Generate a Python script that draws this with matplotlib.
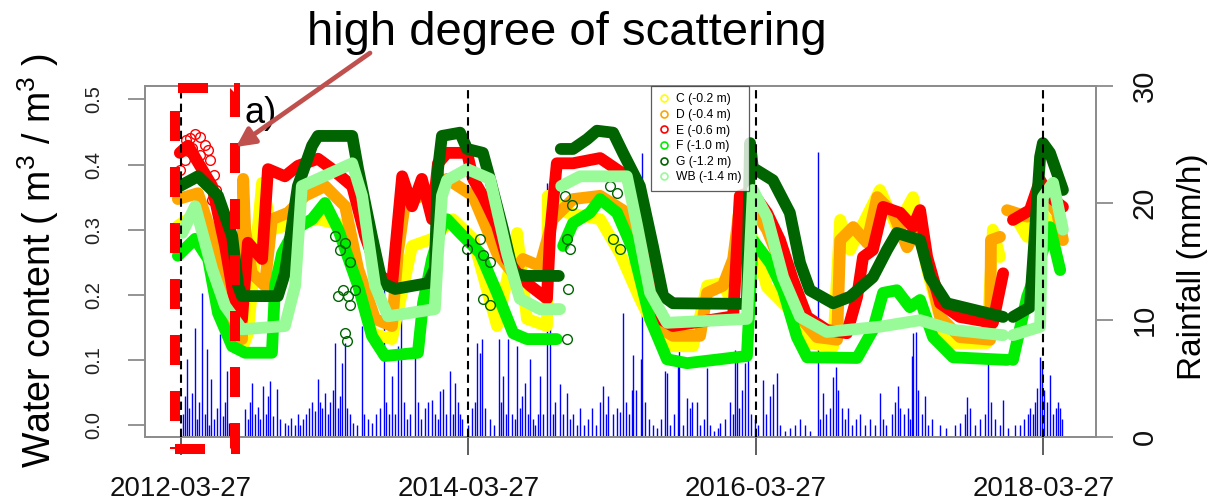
import numpy as np
import pandas as pd
import matplotlib
matplotlib.use("Agg")
import matplotlib.pyplot as plt
from matplotlib.lines import Line2D
from matplotlib.patches import Rectangle, FancyArrowPatch

# ---------------- data ----------------
START = "2012-03-27"
tick_labels = ["2012-03-27", "2014-03-27", "2016-03-27", "2018-03-27"]
series_names = ["C (-0.2 m)", "D (-0.4 m)", "E (-0.6 m)", "F (-1.0 m)", "G (-1.2 m)", "WB (-1.4 m)"]
series_colors = ["#FFFF00", "#FFA500", "#FF0000", "#00EE00", "#006400", "#98FB98"]
nan = float("nan")

# (days since 2012-03-27, water content m3/m3)
C_pts = [(-8, .306), (43, .326), (104, .187), (155, .117), (170, .14), (206, .372), (231, .30),
         (264, .306), (348, .316), (417, .306), (485, .141), (536, .132), (587, .275), (638, .286),
         (691, .316), (742, .286), (803, .152), (854, .295), (879, .163), (930, .152), (932, .352),
         (981, .326), (1065, .316), (1115, .264), (1166, .194), (1209, .141), (1250, .121),
         (1301, .121), (1337, .214), (1377, .218), (1403, .183), (1420, .352), (1433, .330),
         (1489, .212), (1547, .177), (1591, .126), (1657, .120), (1675, .315), (1700, .269),
         (1776, .361), (1819, .304), (1860, .350), (1896, .238), (1946, .126), (2048, .126),
         (2063, .300), (2081, .258), (2100, nan), (2114, .326), (2150, .289), (2175, .335),
         (2234, .289)]
D_pts = [(-8, .347), (43, .356), (94, .264), (130, .163), (155, .132), (158, .378), (163, .30),
         (180, .233), (213, .214), (231, .316), (272, .326), (315, .352), (366, .367), (417, .336),
         (450, .240), (493, .163), (536, .152), (551, .264), (569, .341), (612, .352), (653, .367),
         (676, .378), (742, .352), (803, .264), (844, .233), (869, .255), (912, .244), (945, .316),
         (996, .347), (1065, .352), (1133, .326), (1174, .233), (1209, .152), (1250, .137),
         (1319, .137), (1337, .203), (1377, .214), (1403, .255), (1420, .336), (1446, .341),
         (1489, .300), (1530, .238), (1573, .166), (1616, .135), (1667, .131), (1675, .284),
         (1708, .304), (1743, .280), (1769, .350), (1809, .326), (1845, .273), (1870, .300),
         (1896, .249), (1929, .166), (1979, .135), (2056, .131), (2058, .284), (2081, .289),
         (2090, nan), (2099, .330), (2150, .320), (2183, .361), (2226, .326), (2241, .284)]
E_pts = [(-3, .418), (18, .429), (79, .367), (112, .275), (137, .187), (155, .163), (170, .280),
         (206, .255), (221, .393), (264, .382), (297, .398), (348, .409), (384, .393), (435, .367),
         (468, .290), (501, .233), (536, .214), (562, .382), (587, .336), (612, .378), (638, .316),
         (653, .402), (676, .418), (727, .418), (742, .378), (767, .352), (803, .306), (828, .255),
         (854, .233), (887, .214), (930, .194), (938, .295), (955, .402), (996, .402), (1065, .410),
         (1133, .382), (1166, .316), (1192, .214), (1217, .163), (1250, .152), (1403, .167),
         (1420, .352), (1438, .356), (1453, .356), (1489, .326), (1522, .284), (1555, .223),
         (1591, .166), (1641, .146), (1692, .141), (1718, .197), (1733, .258), (1758, .269),
         (1784, .335), (1827, .326), (1860, .304), (1878, .330), (1896, .258), (1929, .187),
         (1979, .166), (2063, .157), (2089, .233), (2100, nan), (2114, .315), (2157, .330),
         (2183, .376), (2208, .350), (2241, .335)]
F_pts = [(-8, .260), (36, .286), (69, .255), (94, .172), (130, .121), (163, .111), (231, .111),
         (239, .214), (257, .264), (290, .301), (333, .316), (366, .341), (399, .301), (450, .214),
         (485, .137), (518, .106), (602, .111), (615, .187), (638, .255), (663, .306), (676, .316),
         (709, .295), (760, .264), (803, .203), (844, .141), (879, .132), (955, .132), (963, nan),
         (971, .275), (996, .310), (1039, .326), (1065, .347), (1108, .326), (1148, .270),
         (1192, .163), (1235, .101), (1286, .095), (1438, .106), (1453, .284), (1497, .249),
         (1530, .207), (1565, .135), (1591, .104), (1718, .103), (1758, .146), (1784, .203),
         (1819, .207), (1852, .181), (1878, .192), (1911, .135), (1962, .104), (2099, .100),
         (2105, nan), (2114, .100), (2150, .197), (2175, .238), (2208, .304), (2234, .238)]
G_pts = [(-3, .367), (43, .382), (94, .352), (130, .290), (145, .214), (155, .198), (246, .198),
         (264, .233), (297, .367), (333, .429), (348, .444), (435, .444), (450, .393), (485, .290),
         (511, .218), (544, .209), (628, .218), (645, .240), (653, .393), (663, .444), (709, .449),
         (727, .424), (767, .418), (785, .378), (818, .301), (844, .233), (879, .229), (960, .229),
         (962, nan), (965, .424), (996, .424), (1032, .439), (1057, .452), (1098, .449),
         (1123, .418), (1166, .367), (1199, .275), (1225, .198), (1250, .187), (1438, .186),
         (1446, .433), (1453, .395), (1504, .376), (1547, .326), (1573, .249), (1598, .207),
         (1657, .187), (1700, .197), (1758, .227), (1794, .269), (1819, .295), (1878, .284),
         (1903, .227), (1946, .187), (2089, .166), (2100, nan), (2114, .166), (2157, .181),
         (2183, .412), (2190, .433), (2208, .418), (2241, .361)]
WB_pts = [(3, .295), (36, .336), (79, .240), (112, .183), (155, .147), (264, .152), (290, .214),
          (307, .367), (348, .378), (435, .402), (460, .352), (493, .214), (526, .167), (645, .178),
          (653, .264), (663, .352), (676, .376), (727, .393), (785, .378), (828, .264), (861, .194),
          (912, .178), (963, .178), (964, nan), (966, .367), (1014, .382), (1133, .382),
          (1159, .306), (1192, .203), (1235, .157), (1438, .163), (1453, .361), (1489, .320),
          (1530, .227), (1573, .166), (1641, .143), (1776, .151), (1878, .161), (1962, .146),
          (2089, .138), (2100, nan), (2114, .138), (2183, .151), (2190, .350), (2216, .372),
          (2241, .300)]

# scattered single readings
E_scatter = [(3, .422), (13, .438), (23, .441), (36, .447), (48, .442), (61, .430), (74, .407),
             (84, .384), (89, .361), (-3, .392), (10, .407), (48, .415), (69, .422), (79, .346),
             (28, .425)]
G_scatter = [(391, .290), (404, .269), (417, .280), (429, .250), (442, .207), (412, .207),
             (399, .198), (424, .198), (429, .184), (417, .141), (422, .129), (727, .270),
             (760, .286), (767, .261), (785, .250), (767, .194), (785, .184), (981, .286),
             (988, .270), (983, .209), (981, .132), (1098, .286), (1115, .270), (976, .352),
             (993, .338), (1090, .367), (1108, .356)]

# (days since 2012-03-27, rainfall mm/h)
rain = [(5, 2.0), (10, 3.5), (15, 6.7), (20, 2.5), (28, 3.8), (36, 9.3), (41, 1.5), (46, 3.0),
        (53, 12.3), (61, 2.0), (66, 7.5), (71, 1.0), (76, 5.0), (84, 1.5), (91, 2.5), (99, 8.8),
        (107, 1.8), (112, 3.0), (117, 5.6), (122, 1.2), (163, 2.4), (170, 1.5), (175, 3.0),
        (180, 4.6), (188, 2.0), (196, 2.6), (201, 1.5), (208, 4.4), (216, 2.0), (221, 3.5),
        (226, 4.8), (234, 1.8), (244, 4.1), (252, 1.5), (264, 1.2), (272, 1.0), (280, 1.6),
        (290, 1.0), (297, 2.0), (302, 1.0), (310, 1.5), (318, 2.0), (325, 2.5), (333, 3.0),
        (340, 2.2), (348, 5.0), (353, 3.0), (358, 2.5), (366, 3.8), (374, 2.0), (379, 3.0),
        (386, 4.0), (391, 8.0), (399, 2.5), (404, 3.5), (409, 6.3), (417, 8.0), (422, 2.5),
        (429, 2.0), (437, 1.2), (447, 1.0), (460, 9.5), (465, 2.0), (475, 1.5), (485, 1.2),
        (495, 2.0), (506, 2.5), (516, 14.0), (521, 3.0), (529, 2.0), (536, 5.2), (544, 2.0),
        (551, 7.8), (559, 10.1), (567, 3.0), (574, 1.5), (582, 2.0), (595, 6.9), (602, 3.0),
        (610, 1.5), (620, 2.5), (628, 3.0), (638, 3.2), (645, 2.0), (653, 1.5), (658, 3.9),
        (666, 4.1), (673, 2.0), (684, 5.6), (691, 2.0), (696, 4.6), (704, 3.0), (709, 2.0),
        (714, 1.5), (729, 1.0), (739, 2.5), (747, 3.0), (752, 8.0), (760, 7.2), (765, 8.4),
        (772, 2.5), (785, 1.5), (795, 1.0), (808, 8.4), (813, 3.0), (818, 5.2), (826, 2.0),
        (831, 8.4), (841, 2.0), (849, 1.5), (854, 7.8), (861, 2.5), (866, 3.5), (874, 4.6),
        (882, 2.0), (887, 6.7), (894, 1.5), (900, 1.0), (907, 2.0), (912, 5.2), (920, 2.0),
        (930, 21.7), (938, 12.9), (945, 2.0), (950, 3.0), (963, 4.5), (971, 2.0), (981, 3.8),
        (988, 1.5), (996, 2.0), (1006, 1.0), (1014, 2.5), (1024, 1.0), (1034, 1.5), (1044, 2.5),
        (1055, 1.0), (1065, 3.0), (1072, 4.4), (1080, 2.0), (1085, 3.5), (1098, 2.0), (1108, 2.5),
        (1115, 2.1), (1123, 10.6), (1131, 3.0), (1138, 2.0), (1146, 4.0), (1149, 7.0),
        (1156, 4.0), (1169, 6.7), (1171, 24.3), (1179, 3.0), (1189, 1.5), (1199, 1.0),
        (1210, 0.8), (1220, 1.5), (1230, 5.6), (1235, 5.5), (1243, 1.0), (1253, 2.0), (1263, 6.2),
        (1265, 8.0), (1276, 1.0), (1286, 3.3), (1293, 2.5), (1298, 3.0), (1311, 3.0), (1319, 1.0),
        (1329, 1.5), (1337, 5.9), (1344, 1.0), (1354, 0.5), (1365, 0.8), (1370, 1.2), (1382, 1.5),
        (1395, 3.0), (1403, 2.0), (1408, 7.4), (1413, 7.2), (1418, 2.5), (1425, 4.0), (1433, 6.3),
        (1441, 7.0), (1448, 2.0), (1459, 1.5), (1466, 1.0), (1479, 4.9), (1486, 2.0), (1497, 3.5),
        (1504, 4.5), (1514, 5.5), (1522, 1.0), (1535, 0.5), (1547, 0.8), (1560, 1.0), (1573, 1.5),
        (1586, 1.0), (1598, 0.5), (1619, 24.4), (1624, 1.5), (1631, 3.8), (1639, 2.0), (1649, 2.5),
        (1657, 5.1), (1664, 6.0), (1669, 4.0), (1680, 2.5), (1687, 1.5), (1695, 2.5), (1705, 1.0),
        (1715, 1.5), (1725, 2.0), (1738, 1.0), (1751, 1.5), (1763, 1.0), (1776, 3.8), (1784, 1.5),
        (1791, 1.0), (1807, 2.0), (1814, 3.0), (1822, 4.4), (1827, 2.5), (1837, 2.0), (1847, 2.5),
        (1852, 1.5), (1857, 6.9), (1860, 8.9), (1868, 9.0), (1873, 4.0), (1883, 2.0), (1890, 3.5),
        (1898, 1.0), (1908, 1.5), (1929, 1.0), (1944, 0.8), (1967, 1.0), (1979, 1.2), (1992, 2.0),
        (1997, 3.4), (2005, 2.5), (2018, 1.0), (2030, 1.5), (2043, 2.0), (2051, 7.0), (2058, 3.0),
        (2068, 1.5), (2081, 1.0), (2089, 3.2), (2101, 0.8), (2119, 1.0), (2132, 1.0), (2142, 1.5),
        (2152, 2.0), (2157, 2.5), (2165, 2.0), (2170, 3.0), (2175, 4.2), (2183, 6.8), (2188, 6.5),
        (2193, 4.0), (2200, 3.0), (2208, 5.3), (2216, 2.0), (2223, 2.5), (2228, 3.0), (2234, 2.5),
        (2239, 1.5)]

# ---------------- style ----------------
FONT = "Liberation Sans"
plt.rcParams["font.family"] = [FONT, "DejaVu Sans"]
plt.rcParams["mathtext.fontset"] = "custom"
plt.rcParams["mathtext.rm"] = FONT
plt.rcParams["mathtext.default"] = "regular"

W, H = 1215, 504
fig = plt.figure(figsize=(W / 100, H / 100), dpi=100)
L, R, T, B = 145, 1096, 86, 437
ax = fig.add_axes([L / W, 1 - B / H, (R - L) / W, (B - T) / H])
ax2 = ax.twinx()
ax.set_zorder(ax2.get_zorder() + 1)
ax.patch.set_visible(False)

base = pd.Timestamp(START)


def to_dates(days):
    return base + pd.to_timedelta(np.asarray(days, dtype=float), unit="D")


def split(pts):
    d, v = zip(*pts)
    return to_dates(d), np.asarray(v, dtype=float)


# rainfall
rd, rv = split(rain)
ax2.vlines(rd, 0, rv, colors="#0000FF", lw=1.0)
ax2.set_ylim(0, 30)
ax2.set_yticks([0, 10, 20, 30])

# water content
all_pts = [C_pts, D_pts, E_pts, F_pts, G_pts, WB_pts]
for i, (pts, col) in enumerate(zip(all_pts, series_colors)):
    d, v = split(pts)
    ax.plot(d, v, color=col, lw=8.5, solid_capstyle="round", solid_joinstyle="round",
            zorder=2 + i * 0.1)

d, v = split(E_scatter)
ax.plot(d, v, ls="none", marker="o", ms=7, mfc="none", mec="#FF0000", mew=1, zorder=2.25)
d, v = split(G_scatter)
ax.plot(d, v, ls="none", marker="o", ms=7, mfc="none", mec="#006400", mew=1, zorder=2.45)

# vertical dashed date lines
tick_dates = pd.to_datetime(tick_labels)
for td in tick_dates:
    ax.axvline(td, color="black", lw=1.5, ls=(0, (4, 2.5)), zorder=5)

ax.set_xlim(base + pd.Timedelta(days=-91.5), base + pd.Timedelta(days=2325))
ax.set_ylim(-0.0184, 0.5207)
ax.set_yticks([0.0, 0.1, 0.2, 0.3, 0.4, 0.5])
ax.set_yticklabels(["0.0", "0.1", "0.2", "0.3", "0.4", "0.5"])
ax.set_xticks(tick_dates)
ax.set_xticklabels(tick_labels)

for a in (ax, ax2):
    for s in a.spines.values():
        s.set_color("#8c8c8c")
        s.set_linewidth(1.3)

ax.tick_params(axis="y", length=12.2, width=1.1, color="#777777", labelsize=14.5, pad=18,
               labelcolor="#222222")
ax.tick_params(axis="x", length=13.2, width=1.1, color="#333333", labelsize=20, pad=15,
               labelcolor="#111111")
ax2.tick_params(axis="y", length=12.2, width=1.1, color="#777777", labelsize=21, pad=13,
                labelcolor="#111111")
for lab in ax.get_yticklabels():
    lab.set_rotation(90)
    lab.set_va("center")
for lab in ax2.get_yticklabels():
    lab.set_rotation(90)
    lab.set_va("center")

# legend
handles = [Line2D([], [], ls="none", marker="o", ms=5, mfc="none", mec=c, mew=1.2)
           for c in series_colors]
leg = ax.legend(handles, series_names, loc="upper left", bbox_to_anchor=(0.532, 1.0),
                borderaxespad=0, frameon=True, fancybox=False, edgecolor="#333333",
                fontsize=8.7, handlelength=1.0, handletextpad=0.5, labelspacing=0.3,
                borderpad=0.6)
leg.get_frame().set_linewidth(0.9)
leg.set_zorder(10)

# labels
fig.text(38 / W, 1 - 260 / H, "Water content ( m$^{3}$ / m$^{3}$ )", rotation=90,
         ha="center", va="center", fontsize=27)
fig.text(1193 / W, 1 - 267 / H, "Rainfall (mm/h)", rotation=90, ha="center", va="center",
         fontsize=24)
fig.text(307 / W, 1 - 45 / H, "high degree of scattering", ha="left", va="baseline",
         fontsize=34)
fig.text(245 / W, 1 - 123 / H, "a)", ha="left", va="baseline", fontsize=26)

# annotation: red dashed box and arrow
rect = Rectangle((175 / W, 1 - 449 / H), (235 - 175) / W, (449 - 88) / H,
                 transform=fig.transFigure, fill=False, edgecolor="#FF0000", lw=7.2,
                 ls=(0, (3, 2.6)), zorder=20)
rect.set_capstyle("butt")
fig.add_artist(rect)
arrow = FancyArrowPatch((370 / W, 1 - 53 / H), (236 / W, 1 - 147 / H),
                        transform=fig.transFigure, arrowstyle="-|>", mutation_scale=28,
                        lw=3.4, color="#C0504D", shrinkA=0, shrinkB=0, zorder=21)
fig.add_artist(arrow)

fig.savefig("out.png", dpi=100)
